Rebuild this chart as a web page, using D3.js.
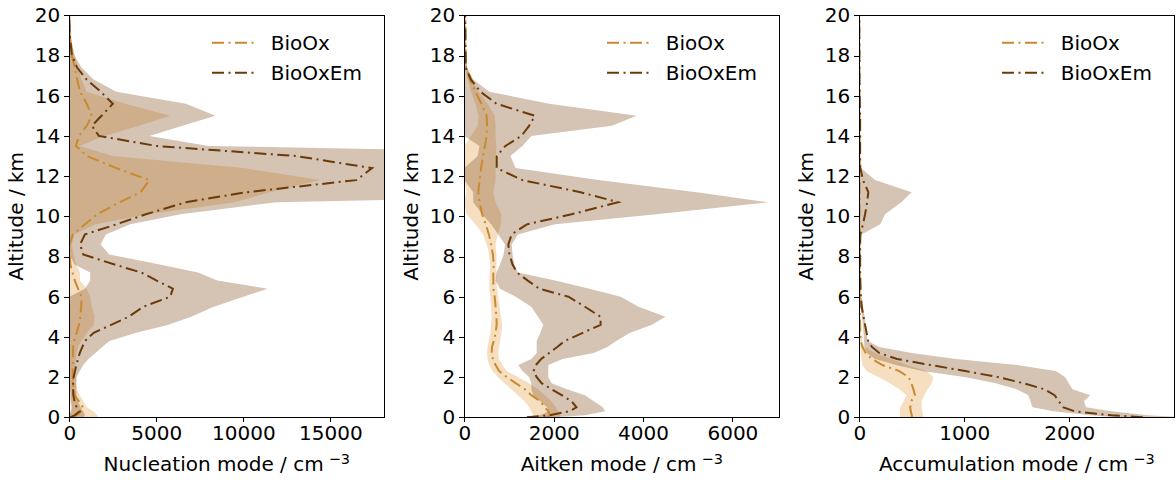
<!DOCTYPE html>
<meta charset="utf-8">
<style>
body { margin: 0; background: #fff; }
svg text { font-family: "DejaVu Sans", sans-serif; fill: #000; }
.axis path, .axis line { stroke: #000; shape-rendering: crispEdges; }
.frame { fill: none; stroke: #000; stroke-width: 1; shape-rendering: crispEdges; }
</style>
<body>
<div id="chart"></div>
<script src="https://d3js.org/d3.v7.min.js"></script>
<script>

// model levels, km
var altitude = [0, 0.1, 0.3, 0.5, 0.8, 1.1, 1.4, 1.7, 2.0, 2.3, 2.6, 2.9, 3.2, 3.5, 3.8,
                4.2, 4.6, 5.0, 5.5, 6.0, 6.4, 6.8, 7.2, 7.6, 8.1, 8.6, 9.1, 9.6, 10.1, 10.7,
                11.2, 11.8, 12.4, 13.0, 13.5, 14.0, 14.5, 15.0, 15.6, 16.2, 16.8, 17.4, 18.0, 19.0, 20.0];

var seriesNames = ["BioOx", "BioOxEm"];
var altTicks = [0, 2, 4, 6, 8, 10, 12, 14, 16, 18, 20];

// nucleation mode
var nucOxMean = [100, 400, 700, 780, 550,  300, 250, 220, 200, 190,  195, 200, 210, 220, 280,
                 420, 560, 640, 680, 710,  500, 320, 180, 60, 20,  10, 200, 900, 1600, 2900,
                 4100, 4600, 2700, 1000, 380,  550, 1000, 1300, 1000, 620,  450, 320, 150, 30, 0];
var nucOxLo   = [0, 0, 100, 100, 50,  0, 0, 0, 0, 0,  0, 0, 0, 0, 0,
                 0, 0, 0, 0, 0,  0, 0, 0, 0, 0,  0, 0, 0, 0, 0,
                 0, 0, 0, 0, 0,  0, 0, 0, 0, 0,  0, 0, 0, 0, 0];
var nucOxHi   = [1650, 1600, 1400, 1000, 800,  600, 450, 400, 380, 350,  350, 380, 420, 500, 700,
                 1000, 1400, 1450, 1300, 1200,  1000, 614, 614, 400, 250,  150, 300, 1500, 4500, 9500,
                 11500, 14400, 10000, 2500, 600,  2000, 4000, 5800, 3200, 1000,  700, 500, 300, 50, 0];
var nucEmMean = [50, 300, 600, 420, 300,  230, 220, 220, 250, 330,  400, 500, 600, 750, 900,
                 1400, 2400, 3400, 4250, 5800,  5950, 5020, 4150, 2600, 800,  620, 900, 2700, 4400, 6700,
                 10200, 16500, 17400, 13000, 5000,  1700, 1300, 1850, 2500, 1800,  1000, 450, 150, 30, 0];
var nucEmLo   = [0, 0, 100, 150, 100,  80, 50, 0, 0, 0,  0, 0, 0, 0, 0,
                 0, 0, 0, 0, 0,  900, 1200, 1200, 300, 0,  0, 0, 0, 0, 0,
                 0, 0, 0, 0, 0,  0, 0, 0, 0, 0,  0, 0, 0, 0, 0];
var nucEmHi   = [800, 900, 800, 650, 500,  420, 400, 400, 420, 600,  800, 1100, 1500, 1900, 2300,
                 3800, 5700, 7000, 8300, 10000,  11400, 8500, 7400, 5200, 2300,  1800, 2100, 3500, 6400, 11900,
                 40000, 40000, 40000, 40000, 8000,  4600, 6500, 8400, 6700, 2700,  1400, 700, 300, 60, 0];

// Aitken mode
var aitOxMean = [1850, 1920, 1880, 1800, 1700,  1500, 1350, 1150, 950, 780,  700, 640, 612, 620, 660,
                 700, 724, 720, 700, 680,  650, 650, 650, 660, 640,  600, 550, 480, 400, 340,
                 313, 340, 375, 420, 460,  500, 510, 500, 380, 250,  130, 40, 30, 25, 20];
var aitOxLo   = [1500, 1550, 1500, 1450, 1350,  1200, 1050, 900, 750, 630,  560, 520, 510, 520, 550,
                 580, 600, 610, 600, 580,  560, 560, 570, 580, 560,  500, 420, 250, 50, 0,
                 50, 0, 0, 0, 0,  150, 300, 320, 250, 150,  80, 20, 20, 15, 10];
var aitOxHi   = [2100, 2150, 2100, 2050, 1950,  1800, 1650, 1450, 1200, 950,  850, 780, 760, 780, 800,
                 830, 850, 820, 790, 760,  730, 720, 720, 720, 720,  700, 750, 820, 830, 700,
                 650, 700, 700, 700, 720,  700, 700, 680, 520, 320,  170, 60, 40, 35, 30];
var aitEmMean = [1400, 1900, 2350, 2510, 2400,  2180, 1950, 1730, 1620, 1550,  1600, 1720, 1900, 2080, 2250,
                 2650, 3050, 3050, 2700, 2330,  1680, 1420, 1180, 1080, 1010,  985, 1060, 1400, 2400, 3440,
                 2600, 1300, 725, 725, 920,  1280, 1450, 1580, 720, 360,  150, 30, 30, 25, 20];
var aitEmLo   = [1350, 1700, 1880, 1850, 1700,  1550, 1500, 1500, 1450, 1300,  1209, 1500, 1620, 1620, 1620,
                 1700, 1768, 1650, 1500, 1150,  800, 700, 720, 800, 880,  911, 761, 600, 400, 201,
                 200, 0, 0, 300, 340,  0, 0, 0, 0, 0,  0, 0, 0, 0, 0];
var aitEmHi   = [2030, 2700, 3150, 3100, 2900,  2700, 2300, 1950, 1880, 1880,  1880, 2200, 2900, 3200, 3400,
                 3700, 4200, 4500, 3900, 3500,  2800, 2030, 1200, 1120, 1080,  1060, 1200, 2030, 4300, 6800,
                 5200, 3000, 1150, 1030, 1300,  1500, 3300, 3860, 1900, 560,  200, 60, 40, 30, 25];

// accumulation mode
var accOxMean = [500, 500, 490, 485, 495,  530, 515, 495, 470, 380,  220, 120, 60, 30, 15,
                 10, 8, 6, 5, 4,  3, 3, 3, 3, 3,  3, 3, 3, 3, 3,
                 3, 3, 3, 3, 3,  3, 3, 3, 2, 2,  1, 1, 1, 0, 0];
var accOxLo   = [387, 387, 387, 390, 420,  450, 380, 292, 180, 70,  30, 20, 15, 10, 5,
                 3, 2, 2, 1, 1,  1, 1, 1, 1, 1,  1, 1, 1, 1, 1,
                 1, 1, 1, 1, 1,  1, 1, 1, 0, 0,  0, 0, 0, 0, 0];
var accOxHi   = [610, 610, 600, 594, 594,  620, 650, 690, 705, 640,  450, 300, 150, 50, 25,
                 18, 14, 10, 8, 6,  5, 5, 5, 5, 5,  5, 5, 5, 5, 5,
                 5, 5, 5, 5, 5,  5, 5, 4, 3, 3,  2, 2, 1, 0, 0];
var accEmMean = [2700, 2400, 2050, 1940, 1900,  1860, 1760, 1560, 1320, 1010,  680, 360, 190, 120, 85,
                 70, 55, 40, 23, 15,  12, 10, 8, 8, 8,  8, 10, 35, 55, 75,
                 86, 35, 10, 8, 8,  8, 8, 8, 5, 3,  2, 1, 1, 0, 0];
var accEmLo   = [2450, 2200, 1850, 1650, 1630,  1610, 1500, 1300, 1000, 600,  350, 150, 70, 50, 45,
                 40, 35, 25, 15, 10,  8, 6, 5, 5, 5,  5, 0, 0, 0, 0,
                 0, 0, 0, 3, 3,  3, 3, 3, 2, 1,  1, 0, 0, 0, 0];
var accEmHi   = [3100, 2750, 2400, 2160, 2140,  2200, 2030, 1995, 1960, 1870,  1500, 920, 500, 190, 80,
                 70, 60, 50, 35, 22,  18, 15, 12, 12, 12,  12, 20, 200, 245, 400,
                 499, 150, 15, 12, 12,  12, 12, 12, 8, 5,  3, 2, 1, 0, 0];

var panels = [
  {label: "Nucleation mode", xmax: 18100, ticks: [0, 5000, 10000, 15000],
   ox: {mean: nucOxMean, lo: nucOxLo, hi: nucOxHi}, em: {mean: nucEmMean, lo: nucEmLo, hi: nucEmHi}},
  {label: "Aitken mode", xmax: 7050, ticks: [0, 2000, 4000, 6000],
   ox: {mean: aitOxMean, lo: aitOxLo, hi: aitOxHi}, em: {mean: aitEmMean, lo: aitEmLo, hi: aitEmHi}},
  {label: "Accumulation mode", xmax: 3000, ticks: [0, 1000, 2000],
   ox: {mean: accOxMean, lo: accOxLo, hi: accOxHi}, em: {mean: accEmMean, lo: accEmLo, hi: accEmHi}}
];

var lineColor = {ox: "#c98a2f", em: "#6b3a09"},
    fillColor = {ox: "#e8b36a", em: "#8b5a2b"},
    fillAlpha = {ox: 0.42, em: 0.36},
    dash = "12,4.5,2,4.5";

var chartWidth = 1176, chartHeight = 480,
    plotWidth = 315, plotHeight = 402,
    firstLeft = 69.3, panelStep = 395, plotTop = 15.3;

var svg = d3.select("#chart").append("svg")
    .attr("width", chartWidth)
    .attr("height", chartHeight);

var y = d3.scaleLinear().domain([0, 20]).range([plotHeight, 0]);

panels.forEach(function(p, i) {
    var g = svg.append("g")
        .attr("transform", "translate(" + (firstLeft + i * panelStep) + "," + plotTop + ")");

    var x = d3.scaleLinear().domain([0, p.xmax]).range([0, plotWidth]);

    g.append("clipPath").attr("id", "clip" + i)
      .append("rect").attr("width", plotWidth).attr("height", plotHeight);

    var plot = g.append("g").attr("clip-path", "url(#clip" + i + ")");

    ["ox", "em"].forEach(function(k) {
        var s = p[k];
        var band = d3.area()
            .y(function(d, j) { return y(altitude[j]); })
            .x0(function(d, j) { return x(s.lo[j]); })
            .x1(function(d, j) { return x(s.hi[j]); });
        plot.append("path")
            .datum(altitude)
            .attr("d", band)
            .attr("fill", fillColor[k])
            .attr("fill-opacity", fillAlpha[k]);
    });

    ["ox", "em"].forEach(function(k) {
        var s = p[k];
        var line = d3.line()
            .x(function(d, j) { return x(s.mean[j]); })
            .y(function(d, j) { return y(altitude[j]); });
        plot.append("path")
            .datum(altitude)
            .attr("d", line)
            .attr("fill", "none")
            .attr("stroke", lineColor[k])
            .attr("stroke-width", 2)
            .attr("stroke-dasharray", dash);
    });

    // axes
    g.append("g").attr("class", "axis")
        .call(d3.axisLeft(y).tickValues(altTicks).tickSize(5).tickPadding(4).tickSizeOuter(0));
    g.append("g").attr("class", "axis")
        .attr("transform", "translate(0," + plotHeight + ")")
        .call(d3.axisBottom(x).tickValues(p.ticks).tickFormat(d3.format("d")).tickSize(5).tickPadding(4).tickSizeOuter(0));
    g.selectAll(".axis .domain").remove();
    g.selectAll(".axis text").style("font-size", "20px");

    g.append("rect").attr("class", "frame")
        .attr("width", plotWidth).attr("height", plotHeight);

    // axis titles
    var xl = g.append("text")
        .attr("x", plotWidth / 2)
        .attr("y", 455.5)
        .attr("text-anchor", "middle")
        .style("font-size", "20px");
    xl.append("tspan").text(p.label + " / cm");
    xl.append("tspan").attr("dx", 5).attr("dy", "-0.45em").style("font-size", "14.5px").text("\u22123");

    g.append("text")
        .attr("transform", "translate(-46," + (plotHeight / 2) + ") rotate(-90)")
        .attr("text-anchor", "middle")
        .style("font-size", "20px")
        .text("Altitude / km");

    // legend
    var leg = g.append("g").attr("transform", "translate(142.7,27.4)");
    ["ox", "em"].forEach(function(k, j) {
        leg.append("line")
            .attr("x1", 0).attr("x2", 41.5)
            .attr("y1", j * 30).attr("y2", j * 30)
            .attr("stroke", lineColor[k])
            .attr("stroke-width", 2)
            .attr("stroke-dasharray", dash);
        leg.append("text")
            .attr("x", 58.7).attr("y", j * 30)
            .attr("dy", "0.36em")
            .style("font-size", "20px")
            .text(seriesNames[j]);
    });
});

</script>
